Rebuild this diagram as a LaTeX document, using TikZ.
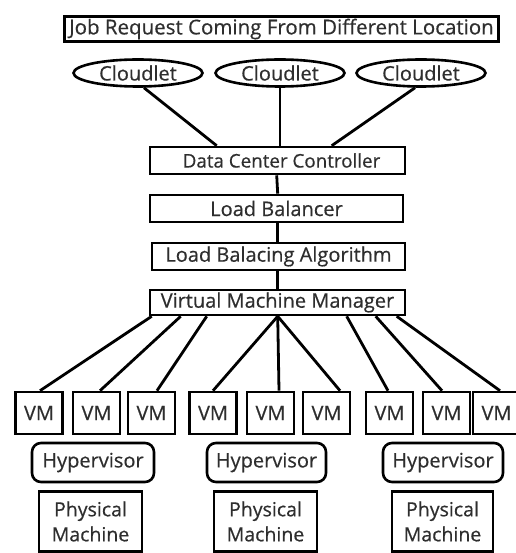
\documentclass[tikz,border=0pt]{standalone}
\usepackage{fontspec}
\setmainfont{Open Sans}[FakeBold=0.5]
\newfontfamily\dfont{Open Sans}[FakeBold=0.5]
\usetikzlibrary{shapes.geometric,calc}
\definecolor{txt}{HTML}{2E2E2E}
\begin{document}
\begin{tikzpicture}[x=1pt,y=-1pt,
  base/.style={draw=black,line width=2.6pt,text=txt,inner sep=0pt,font=\dfont\fontsize{20}{22}\selectfont},
  box/.style={base,rectangle},
  cloud/.style={base,ellipse,minimum width=129pt,minimum height=27pt},
  vmbox/.style={base,rectangle,minimum width=47pt,minimum height=42pt},
  hyp/.style={base,rectangle,rounded corners=9pt,minimum height=39pt},
  pm/.style={base,rectangle,minimum height=60pt,align=center,font=\dfont\fontsize{19.5}{25}\selectfont},
  conn/.style={line width=2.8pt,black}]
\useasboundingbox (0,0) rectangle (515,553);
\node[box,minimum width=435pt,minimum height=26pt,font=\dfont\fontsize{20.5}{22}\selectfont] (job) at (281.5,29) {Job Request Coming From Different Location};
\draw[line width=0.8pt] ([xshift=3pt,yshift=-3pt]job.north west) rectangle ([xshift=-3pt,yshift=3pt]job.south east);
\node[cloud] (c1) at (138,73) {Cloudlet};
\node[cloud] (c2) at (280,73) {Cloudlet};
\node[cloud] (c3) at (421,73) {Cloudlet};
\node[box,minimum width=255pt,minimum height=27pt,font=\dfont\fontsize{18.8}{22}\selectfont] (dcc) at (277.5,160.5) {\hspace*{8pt}Data Center Controller};
\node[box,minimum width=253pt,minimum height=27pt] (lb) at (276.5,208.5) {Load Balancer};
\node[box,minimum width=253pt,minimum height=27pt] (lba) at (278.5,256.5) {Load Balacing Algorithm};
\node[box,minimum width=255pt,minimum height=25pt] (vmm) at (277.5,302.5) {Virtual Machine Manager};
\draw[conn] (c1.-68) -- ([xshift=68pt]dcc.north west);
\draw[conn] (c2.south) -- (c2.south |- dcc.north);
\draw[conn] (c3.-112) -- ([xshift=183pt]dcc.north west);
\draw[conn] ([xshift=128pt]dcc.south west) -- ([xshift=129pt]lb.north west);
\draw[conn] ([xshift=129pt]lb.south west) -- ([xshift=127pt]lba.north west);
\draw[conn] ([xshift=127pt]lba.south west) -- ([xshift=129pt]vmm.north west);
\foreach \i/\x in {1/39,2/96.5,3/151.5,4/213,5/270.5,6/326.5,7/389.5,8/446.5,9/496.5}
  \node[vmbox] (vm\i) at (\x,413) {VM};
\draw[conn] ([xshift=3pt]vmm.south west) -- ([xshift=1pt]vm1.north);
\draw[conn] ([xshift=32pt]vmm.south west) -- ([xshift=3.5pt]vm2.north);
\draw[conn] ([xshift=58pt]vmm.south west) -- ([xshift=5.5pt]vm3.north);
\draw[conn] ([xshift=129pt]vmm.south west) -- (vm4.north);
\draw[conn] ([xshift=129pt]vmm.south west) -- ([xshift=8.5pt]vm5.north);
\draw[conn] ([xshift=129pt]vmm.south west) -- ([xshift=13.5pt]vm6.north);
\draw[conn] ([xshift=198pt]vmm.south west) -- ([xshift=-1.5pt]vm7.north);
\draw[conn] ([xshift=227pt]vmm.south west) -- ([xshift=-4.5pt]vm8.north);
\draw[conn] ([xshift=248pt]vmm.south west) -- ([xshift=3.5pt]vm9.north);
\node[hyp,minimum width=122pt] (h1) at (93,462.5) {Hypervisor};
\node[hyp,minimum width=119pt] (h2) at (266.5,462.5) {Hypervisor};
\node[hyp,minimum width=120pt] (h3) at (443,462.5) {Hypervisor};
\node[pm,minimum width=103pt] (p1) at (90.5,521.5) {Physical\\Machine};
\node[pm,minimum width=103pt] (p2) at (265.5,521.5) {Physical\\Machine};
\node[pm,minimum width=101pt] (p3) at (442.5,521.5) {Physical\\Machine};
\end{tikzpicture}
\end{document}
